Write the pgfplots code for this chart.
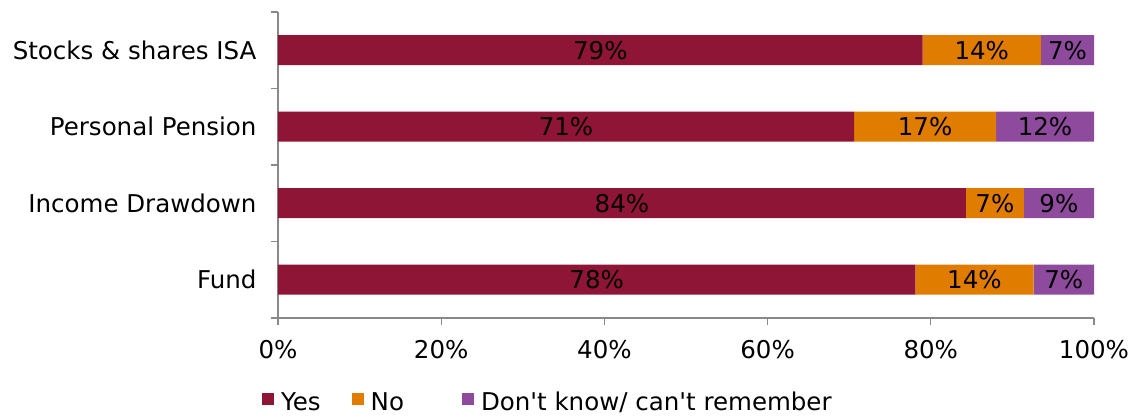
\documentclass[border=0pt]{standalone}
\usepackage{pgfplots}
\pgfplotsset{compat=1.18}
\usepackage{pgfplotstable}
\usepackage{fontspec}
\setmainfont{DejaVu Sans}
\definecolor{cyes}{HTML}{8E1535}
\definecolor{cno}{HTML}{E07C00}
\definecolor{cdk}{HTML}{8E4A9C}
\definecolor{axgray}{HTML}{898989}
\pgfplotstableread{
y val lab
0 78.1 78
1 84.3 84
2 70.6 71
3 79.0 79
}\tyes
\pgfplotstableread{
y val lab
0 14.5 14
1 7.1 7
2 17.4 17
3 14.5 14
}\tno
\pgfplotstableread{
y val lab
0 7.4 7
1 8.6 9
2 12.0 12
3 6.5 7
}\tdk
\begin{document}
\begin{tikzpicture}
\begin{axis}[
  scale only axis,
  width=816pt, height=306pt,
  xbar stacked,
  bar width=30pt,
  xmin=0, xmax=100,
  ymin=-0.5, ymax=3.5,
  axis x line*=bottom,
  axis y line*=left,
  axis line style={axgray, line width=1.2pt},
  xtick={0,20,40,60,80,100},
  xticklabels={0\%,20\%,40\%,60\%,80\%,100\%},
  ytick={-0.5,0.5,1.5,2.5,3.5},
  yticklabels={},
  extra y ticks={0,1,2,3},
  extra y tick labels={Fund,Income Drawdown,Personal Pension,Stocks \& shares ISA},
  extra y tick style={major tick length=0pt, yticklabel style={xshift=-18pt}},
  major tick length=7pt,
  tick align=outside,
  tick style={axgray, line width=1.2pt},
  tick label style={font=\fontsize{24.5}{29}\selectfont, text=black},
  xticklabel style={yshift=-12pt},
  /pgf/number format/assume math mode=true,
  point meta=explicit,
  nodes near coords={\pgfmathprintnumber[fixed,precision=0]{\pgfplotspointmeta}\%},
  every node near coord/.append style={font=\fontsize{24.5}{29}\selectfont, text=black},
  legend style={at={(0,0)}, anchor=west, xshift=-16pt, yshift=-84pt, draw=none, inner xsep=0pt, font=\fontsize{24.5}{29}\selectfont, legend columns=3,
    /tikz/column 2/.style={column sep=29pt}, /tikz/column 4/.style={column sep=56pt}},
  legend image code/.code={\fill[#1] (0pt,-3pt) rectangle (12pt,9pt); \path (17pt,0pt);},
]
\addplot[fill=cyes, draw=none] table[x=val, y=y, meta=lab]{\tyes};
\addplot[fill=cno, draw=none] table[x=val, y=y, meta=lab]{\tno};
\addplot[fill=cdk, draw=none] table[x=val, y=y, meta=lab]{\tdk};
\legend{Yes, No, Don\textquotesingle t know/ can\textquotesingle t remember}
\coordinate (tl) at (rel axis cs:0,1);
\coordinate (br) at (rel axis cs:1,0);
\end{axis}
\path (tl) ++(-278pt,12pt);
\path (br) ++(47pt,-101pt);
\end{tikzpicture}
\end{document}
